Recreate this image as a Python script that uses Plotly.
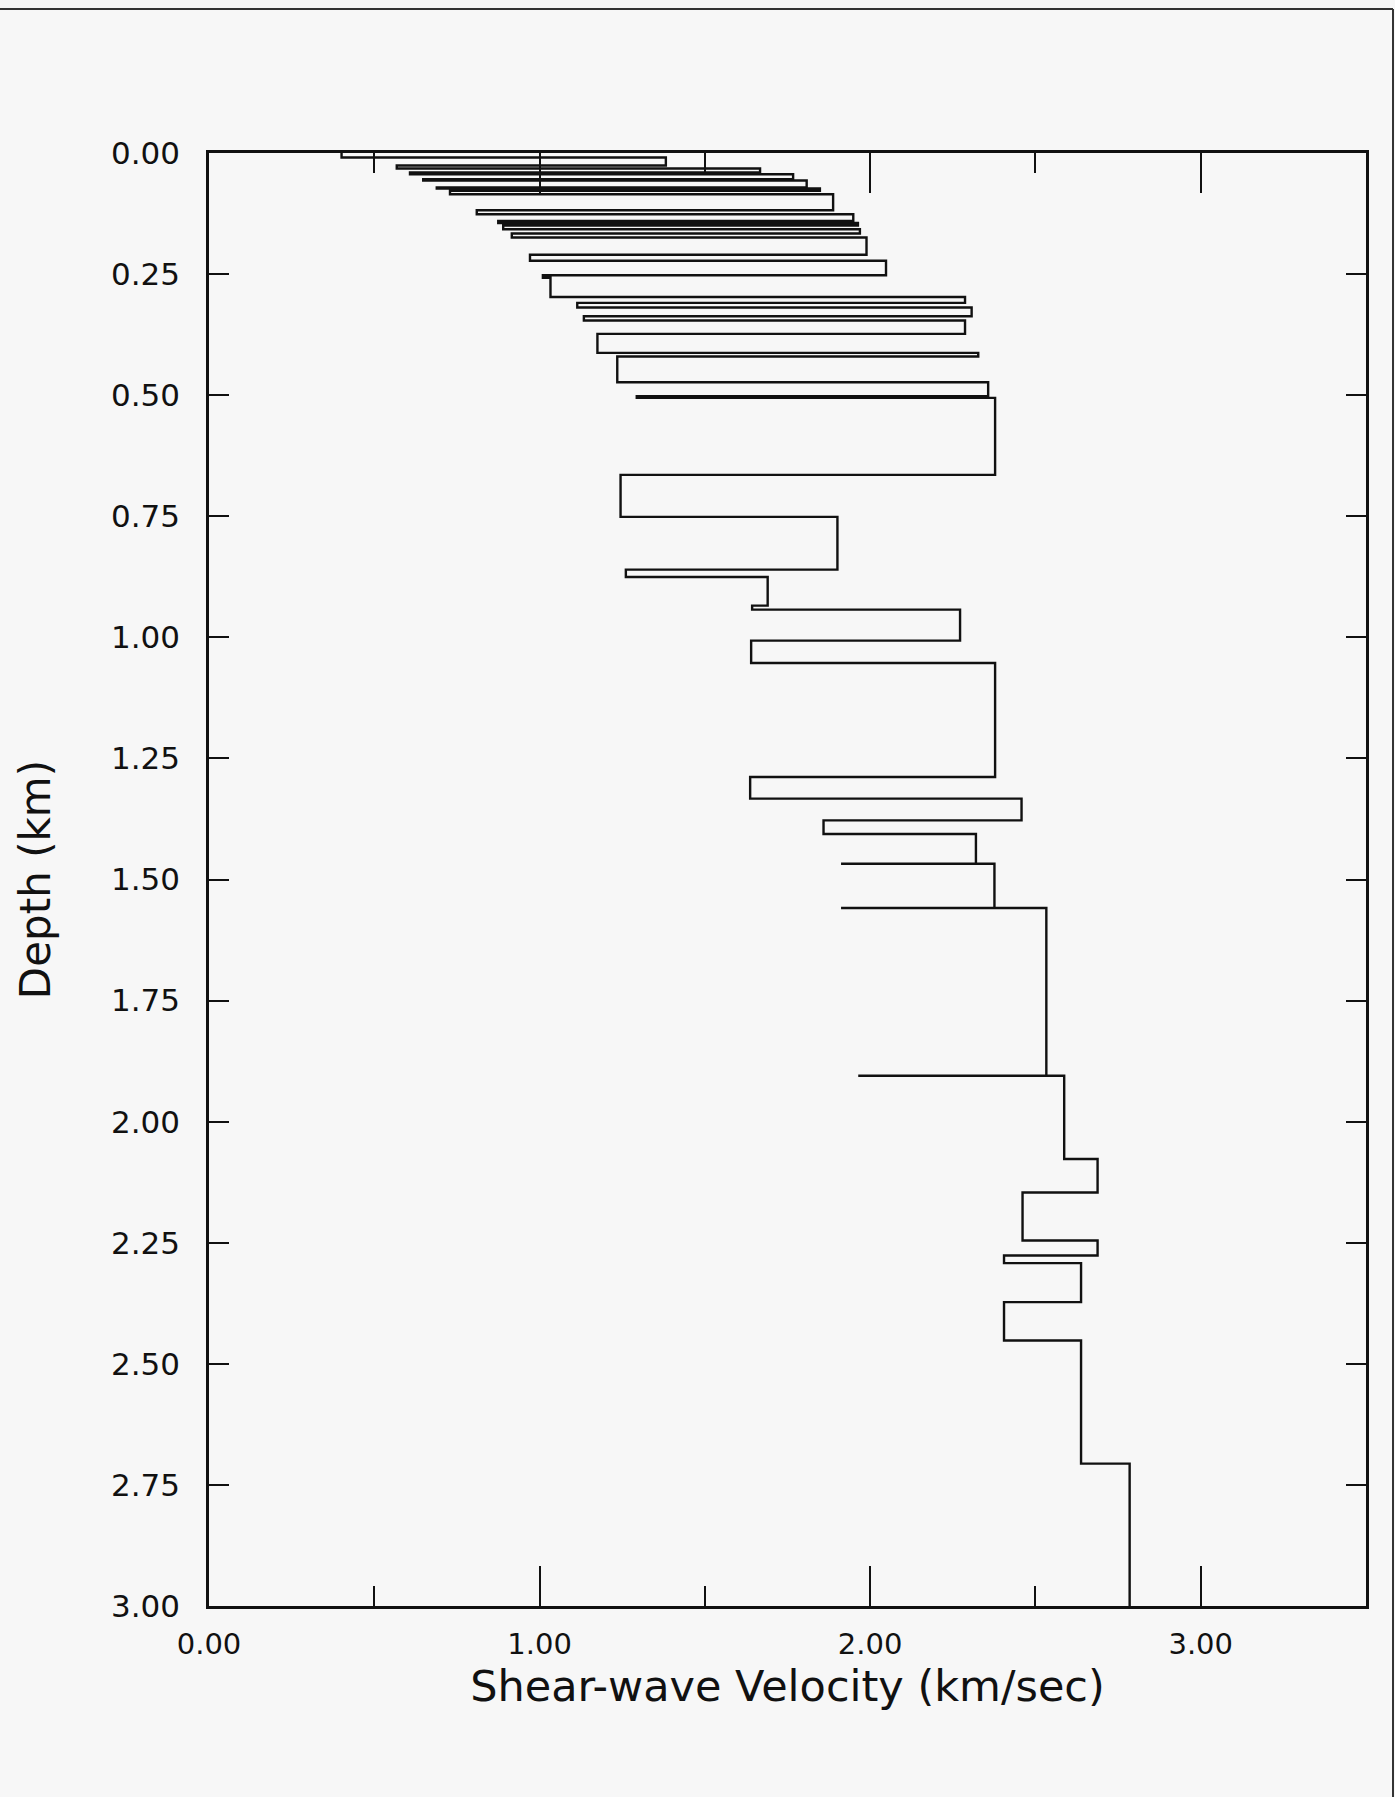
import plotly.graph_objects as go

# Layered shear-wave velocity model: depth to the top of each layer (km)
# and the layer's shear-wave velocity (km/s).  Equal consecutive tops are
# zero-thickness spikes in the plotted staircase.
layer_top_km = [
    0.000, 0.0093, 0.0258, 0.032, 0.0403, 0.0438, 0.0541, 0.0568, 0.0713,
    0.0733, 0.0781, 0.0851, 0.1181, 0.1264, 0.1404, 0.1446, 0.1497, 0.1574,
    0.1663, 0.1745, 0.2102, 0.2226, 0.2524, 0.2577, 0.2974, 0.3094, 0.3191,
    0.3370, 0.3459, 0.3734, 0.4126, 0.4203, 0.4734, 0.5023, 0.5056, 0.6646,
    0.7513, 0.8602, 0.8753, 0.9345, 0.9428, 1.0068, 1.0529, 1.2883, 1.3331,
    1.3779, 1.4060, 1.4674, 1.4674, 1.5588, 1.5588, 1.9052, 1.9052, 2.0772,
    2.1462, 2.2453, 2.2763, 2.2920, 2.3726, 2.4519, 2.7061,
]
vs_km_s = [
    0.401, 1.382, 0.568, 1.667, 0.608, 1.767, 0.648, 1.808, 0.689,
    1.848, 0.729, 1.888, 0.810, 1.949, 0.875, 1.963, 0.890, 1.969,
    0.916, 1.989, 0.971, 2.048, 1.010, 1.033, 2.287, 1.114, 2.307,
    1.134, 2.287, 1.175, 2.327, 1.235, 2.357, 1.294, 2.378, 1.245,
    1.901, 1.261, 1.690, 1.643, 2.272, 1.640, 2.378, 1.637, 2.458,
    1.859, 2.320, 1.912, 2.376, 1.912, 2.533, 1.964, 2.587, 2.688,
    2.461, 2.688, 2.405, 2.638, 2.405, 2.638, 2.785,
]
model_base_km = 3.0

x_tick_values = [0.0, 1.0, 2.0, 3.0]
x_title = "Shear-wave Velocity (km/sec)"
y_title = "Depth (km)"

# Staircase: one vertical run per layer, joined by horizontal steps
layer_bottom_km = layer_top_km[1:] + [model_base_km]
xs, ys = [], []
for v, top, bot in zip(vs_km_s, layer_top_km, layer_bottom_km):
    xs += [v, v]
    ys += [top, bot]

INK = "#111111"
BG = "#f7f7f7"
FONT = "DejaVu Sans"

fig = go.Figure()
fig.add_trace(go.Scatter(
    x=xs, y=ys, mode="lines",
    line=dict(color=INK, width=2.4),
    hoverinfo="skip", showlegend=False,
))

fig.update_layout(
    width=1395, height=1797,
    margin=dict(l=209, r=29, t=153, b=191, pad=0),
    paper_bgcolor=BG, plot_bgcolor=BG,
    font=dict(family=FONT, color=INK),
    showlegend=False,
    xaxis=dict(
        range=[0, 3.5], tickvals=x_tick_values, tickformat=".2f",
        ticks="inside", ticklen=40, tickwidth=2, tickcolor=INK,
        minor=dict(dtick=0.5, tick0=0, ticks="inside", ticklen=20,
                   tickwidth=2, tickcolor=INK),
        showline=True, linewidth=2.5, linecolor=INK, mirror="ticks",
        showgrid=False, zeroline=False,
        tickfont=dict(size=29, color=INK), ticklabelstandoff=10,
        title=dict(text=x_title, font=dict(size=43, color=INK), standoff=12),
    ),
    yaxis=dict(
        range=[model_base_km, 0], dtick=0.25, tick0=0, tickformat=".2f",
        ticks="inside", ticklen=20, tickwidth=2, tickcolor=INK,
        showline=True, linewidth=2.5, linecolor=INK, mirror="ticks",
        showgrid=False, zeroline=False,
        tickfont=dict(size=31, color=INK), ticklabelstandoff=20,
        title=dict(text=y_title, font=dict(size=42, color=INK), standoff=48),
    ),
    # second depth axis carries the longer half-kilometre ticks
    yaxis2=dict(
        overlaying="y", side="left", range=[model_base_km, 0],
        dtick=0.5, tick0=0, ticks="inside", ticklen=40, tickwidth=2,
        tickcolor=INK, mirror="ticks", showticklabels=False,
        showline=False, showgrid=False, zeroline=False,
    ),
)

# page border of the sheet
fig.add_shape(type="line", xref="paper", yref="paper",
              x0=-209 / 1157, x1=1 + 27 / 1157,
              y0=1 + 144 / 1452.5, y1=1 + 144 / 1452.5,
              line=dict(color="#333333", width=2))
fig.add_shape(type="line", xref="paper", yref="paper",
              x0=1 + 27 / 1157, x1=1 + 27 / 1157,
              y0=-191 / 1452.5, y1=1 + 144 / 1452.5,
              line=dict(color="#333333", width=2))

fig.write_html("out.html")
